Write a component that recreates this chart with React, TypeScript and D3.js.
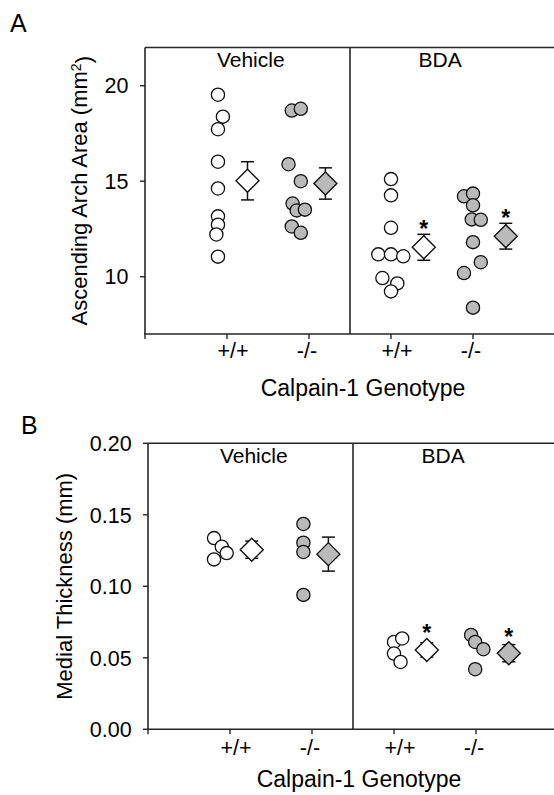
import React from 'react';
import * as d3 from 'd3';

// ---------- shared categories ----------
const genotypes = ['+/+', '-/-', '+/+', '-/-'];
const treatments = ['Vehicle', 'BDA'];
const xTitle = 'Calpain-1 Genotype';

// ---------- Panel A: Ascending Arch Area (mm²) ----------
const areaVehWT = [19.53, 18.38, 17.72, 16.02, 14.62, 13.16, 12.72, 12.21, 11.05];
const areaVehWTJit = [-0.11, -0.05, -0.11, -0.11, -0.11, -0.11, -0.11, -0.13, -0.11];
const areaVehKO = [18.7, 18.79, 15.89, 15.0, 13.83, 13.47, 13.51, 12.63, 12.3];
const areaVehKOJit = [-0.21, -0.1, -0.25, -0.1, -0.2, -0.15, -0.05, -0.21, -0.1];
const areaBdaWT = [15.11, 14.26, 12.56, 11.17, 11.17, 11.07, 9.93, 9.65, 9.23];
const areaBdaWTJit = [0, 0, 0, -0.155, 0, 0.15, -0.105, 0.077, 0];
const areaBdaKO = [14.21, 14.35, 13.74, 13.0, 12.98, 11.81, 10.76, 10.19, 8.38];
const areaBdaKOJit = [-0.11, 0, 0, -0.015, 0.095, 0, 0.095, -0.11, 0];
const areaMean = [15.02, 14.88, 11.54, 12.12];
const areaSem = [1.0, 0.82, 0.68, 0.675];
const areaMeanOffset = [0.25, 0.2, 0.4, 0.4];
const areaSig = [false, false, true, true];
const areaTicks = [10, 15, 20];

// ---------- Panel B: Medial Thickness (mm) ----------
const thickVehWT = [0.1337, 0.1277, 0.1232, 0.1188];
const thickVehWTJit = [-0.195, -0.1, -0.04, -0.195];
const thickVehKO = [0.1436, 0.1305, 0.124, 0.094];
const thickVehKOJit = [-0.105, -0.105, -0.105, -0.105];
const thickBdaWT = [0.0611, 0.0635, 0.053, 0.0471];
const thickBdaWTJit = [0, 0.1, 0, 0.08];
const thickBdaKO = [0.066, 0.0611, 0.056, 0.042];
const thickBdaKOJit = [-0.06, -0.01, 0.09, -0.01];
const thickMean = [0.1256, 0.1225, 0.0555, 0.0532];
const thickSem = [0.006, 0.0119, 0.005, 0.006];
const thickMeanOffset = [0.265, 0.2, 0.4, 0.4];
const thickSig = [false, false, true, true];
const thickTicks = [0, 0.05, 0.1, 0.15, 0.2];

const FONT = '"Liberation Sans", Arial, Helvetica, sans-serif';
const LINE = '#262626';
const GRAY = '#bababa';
const fills = ['#ffffff', GRAY, '#ffffff', GRAY];

type PanelProps = {
  letter: string;
  letterPos: [number, number];
  left: number;
  top: number;
  bottom: number;
  step: number;
  yDomain: [number, number];
  yTicks: number[];
  yFmt: (v: number) => string;
  yTitle: React.ReactNode;
  yTitleX: number;
  tickLabelEnd: number;
  points: number[][];
  jitter: number[][];
  mean: number[];
  sem: number[];
  meanOffset: number[];
  sig: boolean[];
  tickLabelY: number;
  xTitleY: number;
  xTitleX: number;
};

function Panel(p: PanelProps) {
  const x = d3.scaleLinear().domain([0, 5]).range([p.left, p.left + 5 * p.step]);
  const y = d3.scaleLinear().domain(p.yDomain).range([p.bottom, p.top]);
  const r = 6.6;
  const dHalf = 11.5;
  const cap = 6.5;
  const diamond = (cx: number, cy: number) =>
    d3.line()([
      [cx, cy - dHalf],
      [cx + dHalf, cy],
      [cx, cy + dHalf],
      [cx - dHalf, cy],
      [cx, cy - dHalf],
    ]) + 'Z';
  const right = x(5);
  const divider = x(2.5);
  return (
    <g fontFamily={FONT}>
      <text x={p.letterPos[0]} y={p.letterPos[1]} fontSize={25}>{p.letter}</text>
      {/* frame */}
      <line x1={p.left} x2={right} y1={p.top} y2={p.top} stroke={LINE} strokeWidth={1.6} />
      <line x1={p.left} x2={p.left} y1={p.top} y2={p.bottom} stroke={LINE} strokeWidth={1.6} />
      <line x1={p.left - 0.8} x2={right} y1={p.bottom} y2={p.bottom} stroke={LINE} strokeWidth={1.6} />
      <line x1={divider} x2={divider} y1={p.top} y2={p.bottom} stroke={LINE} strokeWidth={1.6} />
      {/* y ticks */}
      {p.yTicks.map((t) => (
        <g key={'yt' + t}>
          <line x1={p.left - 5} x2={p.left} y1={y(t)} y2={y(t)} stroke={LINE} strokeWidth={1.4} />
          <text x={p.tickLabelEnd} y={y(t)} dy="0.36em" textAnchor="end" fontSize={21.5}>
            {p.yFmt(t)}
          </text>
        </g>
      ))}
      <text
        transform={`translate(${p.yTitleX},${(p.top + p.bottom) / 2}) rotate(-90)`}
        textAnchor="middle"
        fontSize={22}
      >
        {p.yTitle}
      </text>
      {/* x ticks */}
      {[0, 1, 2, 3, 4].map((i) => (
        <line key={'xt' + i} x1={x(i)} x2={x(i)} y1={p.bottom} y2={p.bottom + 5} stroke={LINE} strokeWidth={1.4} />
      ))}
      {genotypes.map((g, i) => (
        <text
          key={'xl' + i}
          x={x(i + 1) + (g === '+/+' ? 6 : -2)}
          y={p.tickLabelY}
          textAnchor="middle"
          fontSize={21.5}
        >
          {g}
        </text>
      ))}
      <text x={p.xTitleX} y={p.xTitleY} textAnchor="middle" fontSize={23}>{xTitle}</text>
      {/* treatment labels */}
      <text x={x(1.29)} y={p.top + 19.5} textAnchor="middle" fontSize={21}>{treatments[0]}</text>
      <text x={x(3.6)} y={p.top + 19.5} textAnchor="middle" fontSize={21}>{treatments[1]}</text>
      {/* points */}
      {p.points.map((vals, gi) =>
        vals.map((v, j) => (
          <circle
            key={`pt${gi}-${j}`}
            cx={x(gi + 1 + p.jitter[gi][j])}
            cy={y(v)}
            r={r}
            fill={fills[gi]}
            stroke="#111"
            strokeWidth={1.3}
          />
        ))
      )}
      {/* means */}
      {p.mean.map((m, gi) => {
        const cx = x(gi + 1 + p.meanOffset[gi]);
        const yTop = y(m + p.sem[gi]);
        const yBot = y(m - p.sem[gi]);
        const topEdge = Math.min(yTop, y(m) - dHalf);
        return (
          <g key={'m' + gi}>
            <line x1={cx} x2={cx} y1={yTop} y2={yBot} stroke="#111" strokeWidth={1.5} />
            <line x1={cx - cap} x2={cx + cap} y1={yTop} y2={yTop} stroke="#111" strokeWidth={1.5} />
            <line x1={cx - cap} x2={cx + cap} y1={yBot} y2={yBot} stroke="#111" strokeWidth={1.5} />
            <path d={diamond(cx, y(m))} fill={fills[gi]} stroke="#111" strokeWidth={1.4} />
            {p.sig[gi] && (
              <text x={cx} y={topEdge + 3} textAnchor="middle" fontSize={23} fontWeight="bold">*</text>
            )}
          </g>
        );
      })}
    </g>
  );
}

export default function App() {
  return (
    <svg
      width={554}
      height={795}
      style={{ position: 'absolute', left: 0, top: 0, background: '#fff' }}
    >
      <rect x={0} y={0} width={554} height={795} fill="#fff" />
      <Panel
        letter="A"
        letterPos={[10, 32]}
        left={145}
        top={47.5}
        bottom={334}
        step={82}
        yDomain={[7, 22]}
        yTicks={areaTicks}
        yFmt={(v) => String(v)}
        yTitle={
          <>
            Ascending Arch Area (mm<tspan dy="-0.45em" fontSize={14}>2</tspan>
            <tspan dy="0.45em">)</tspan>
          </>
        }
        yTitleX={87}
        tickLabelEnd={128.5}
        points={[areaVehWT, areaVehKO, areaBdaWT, areaBdaKO]}
        jitter={[areaVehWTJit, areaVehKOJit, areaBdaWTJit, areaBdaKOJit]}
        mean={areaMean}
        sem={areaSem}
        meanOffset={areaMeanOffset}
        sig={areaSig}
        tickLabelY={358}
        xTitleY={396}
        xTitleX={363}
      />
      <Panel
        letter="B"
        letterPos={[21, 434]}
        left={148}
        top={443.3}
        bottom={729.3}
        step={82}
        yDomain={[0, 0.2]}
        yTicks={thickTicks}
        yFmt={d3.format('.2f')}
        yTitle="Medial Thickness (mm)"
        yTitleX={71.5}
        tickLabelEnd={131.7}
        points={[thickVehWT, thickVehKO, thickBdaWT, thickBdaKO]}
        jitter={[thickVehWTJit, thickVehKOJit, thickBdaWTJit, thickBdaKOJit]}
        mean={thickMean}
        sem={thickSem}
        meanOffset={thickMeanOffset}
        sig={thickSig}
        tickLabelY={755}
        xTitleY={787}
        xTitleX={359}
      />
    </svg>
  );
}
